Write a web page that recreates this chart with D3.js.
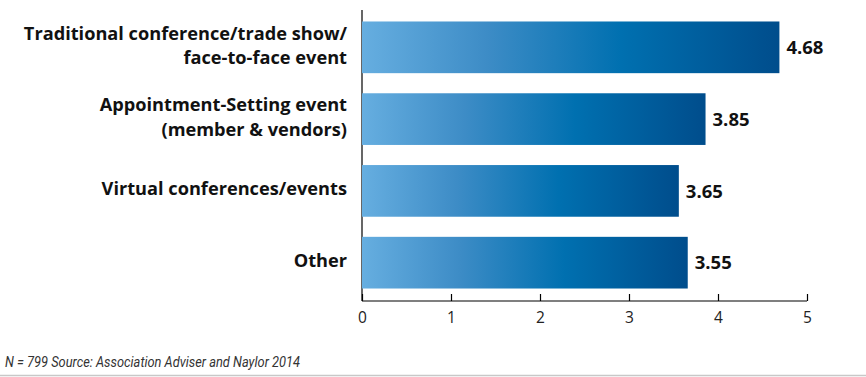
<!DOCTYPE html>
<html><head><meta charset="utf-8">
<script src="https://cdn.jsdelivr.net/npm/d3@7"></script>
<style>
body{margin:0;background:#fff;}
svg{display:block;}
</style></head>
<body>
<svg id="chart" width="866" height="377"></svg>
<script>
const categories = [
  ["Traditional conference/trade show/", "face-to-face event"],
  ["Appointment-Setting event", "(member & vendors)"],
  ["Virtual conferences/events"],
  ["Other"]
];
// bar lengths as drawn in the picture (the source's last two bars do not follow their printed labels)
const values = [4.69, 3.86, 3.56, 3.66];
const valueLabels = ["4.68", "3.85", "3.65", "3.55"];
const tickValues = [0, 1, 2, 3, 4, 5];
const footnote = "N = 799 Source: Association Adviser and Naylor 2014";

const svg = d3.select("#chart");
const x = d3.scaleLinear().domain([0, 5]).range([362, 807]);
const y = d3.scaleBand().domain(d3.range(values.length)).range([10, 300]).paddingInner(0.28).paddingOuter(0.16);

const defs = svg.append("defs");
const grad = defs.append("linearGradient").attr("id", "barGrad").attr("x1", "0").attr("x2", "1").attr("y1", "0").attr("y2", "0");
grad.append("stop").attr("offset", "0%").attr("stop-color", "#66aee0");
grad.append("stop").attr("offset", "30%").attr("stop-color", "#3d8cc6");
grad.append("stop").attr("offset", "62%").attr("stop-color", "#0070b0");
grad.append("stop").attr("offset", "100%").attr("stop-color", "#004d8c");

// vertical axis line
svg.append("line").attr("x1", x(0)).attr("x2", x(0)).attr("y1", 10).attr("y2", 301)
  .attr("stroke", "#000").attr("stroke-width", 1.2);

svg.append("g").selectAll("rect").data(values).join("rect")
  .attr("x", x(0)).attr("y", (d, i) => y(i))
  .attr("width", d => x(d) - x(0)).attr("height", y.bandwidth())
  .attr("fill", "url(#barGrad)");

// x axis
const axis = d3.axisBottom(x).tickValues(tickValues).tickSize(-7).tickPadding(0).tickFormat(d3.format("d"));
const gx = svg.append("g").attr("transform", "translate(0,301)").call(axis);
gx.select(".domain").attr("stroke", "#000").attr("stroke-width", 1.2).attr("d", `M${x(0)},0H${x(5)}`);
gx.selectAll(".tick line").attr("stroke", "#000").attr("stroke-width", 1.2);
gx.selectAll(".tick text").attr("font-family", "Open Sans, sans-serif").attr("font-size", 15.5).attr("fill", "#222")
  .attr("y", 16).attr("dy", "0.36em");

// category labels
const lab = svg.append("g").selectAll("text").data(categories).join("text")
  .attr("text-anchor", "end").attr("font-family", "Open Sans, sans-serif")
  .attr("font-weight", "bold").attr("font-size", 18.2).attr("fill", "#111");
lab.each(function(d, i) {
  const t = d3.select(this);
  const cy = y(i) + y.bandwidth() / 2 - 2;
  const lh = 24.5;
  const start = cy - (d.length - 1) * lh / 2;
  d.forEach((line, j) => {
    t.append("tspan").attr("x", 347).attr("y", start + j * lh).attr("dy", "0.36em").text(line);
  });
});

// value labels
svg.append("g").selectAll("text").data(values).join("text")
  .attr("x", d => x(d) + 7).attr("y", (d, i) => y(i) + y.bandwidth() / 2).attr("dy", "0.36em")
  .attr("font-family", "Open Sans, sans-serif").attr("font-weight", "bold").attr("font-size", 18.5).attr("fill", "#111")
  .text((d, i) => valueLabels[i]);

// footnote
svg.append("text").attr("x", 5).attr("y", 367)
  .attr("font-family", "Liberation Sans Narrow, Roboto, sans-serif").attr("font-style", "italic")
  .attr("font-size", 14).attr("fill", "#333").attr("textLength", 295).attr("lengthAdjust", "spacingAndGlyphs")
  .text(footnote);

// bottom rule
svg.append("line").attr("x1", 0).attr("x2", 866).attr("y1", 375.5).attr("y2", 375.5)
  .attr("stroke", "#c8c8c8").attr("stroke-width", 1.5);
</script>
</body></html>
